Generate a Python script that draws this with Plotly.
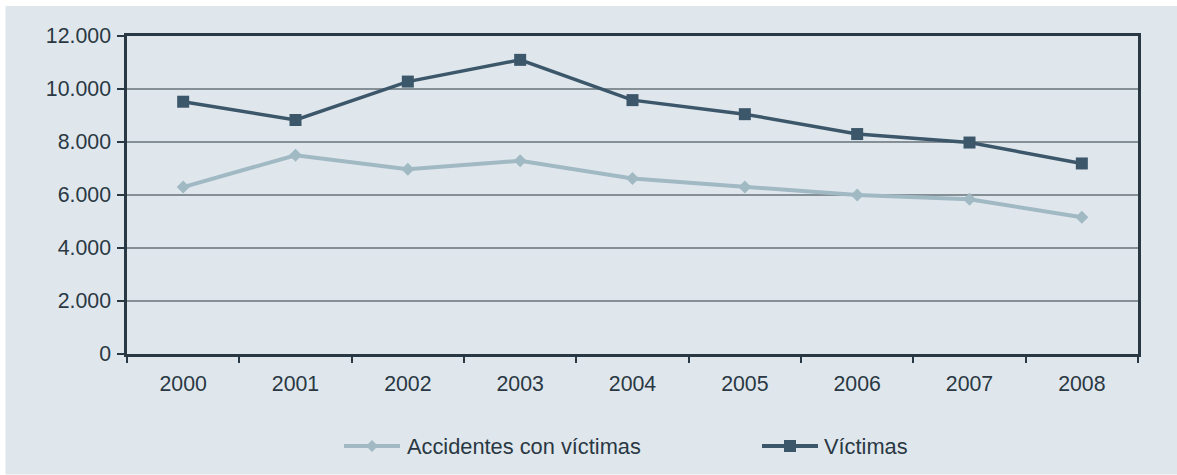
import plotly.graph_objects as go

# Annual series
years = ["2000", "2001", "2002", "2003", "2004", "2005", "2006", "2007", "2008"]
accidentes = [6300, 7500, 6970, 7290, 6620, 6300, 6000, 5840, 5160]
victimas = [9520, 8830, 10280, 11100, 9580, 9050, 8300, 7980, 7190]
series_names = ["Accidentes con víctimas", "Víctimas"]
y_ticks = [0, 2000, 4000, 6000, 8000, 10000, 12000]

# Styling
W, H = 1177, 475
L, R, T, B = 127, 39, 36, 121
BG = "#DFE7ED"
GRID = "#858F96"
AXIS = "#2A3843"
TEXT = "#2A3843"
C_ACC = "#A1B9C3"
C_VIC = "#3C566A"
FONT = "Liberation Sans, Arial, sans-serif"

plot_w = W - L - R
plot_h = H - T - B


def px_to_paper_x(px):
    return (px - L) / plot_w


def px_to_paper_y(py):
    return (H - B - py) / plot_h


fig = go.Figure()
fig.add_trace(go.Scatter(
    x=years, y=accidentes, name=series_names[0], mode="lines+markers",
    line=dict(color=C_ACC, width=4),
    marker=dict(symbol="diamond", size=10, color=C_ACC),
    showlegend=False,
))
fig.add_trace(go.Scatter(
    x=years, y=victimas, name=series_names[1], mode="lines+markers",
    line=dict(color=C_VIC, width=3.5),
    marker=dict(symbol="square", size=12, color=C_VIC),
    showlegend=False,
))

shapes = [
    # light panel behind the whole chart
    dict(type="rect", xref="paper", yref="paper",
         x0=px_to_paper_x(5.5), x1=px_to_paper_x(W + 5),
         y0=px_to_paper_y(474.5), y1=px_to_paper_y(6),
         fillcolor=BG, line=dict(width=0), layer="below"),
]

# Legend drawn as line + marker keys with text labels
legend_y = px_to_paper_y(446)
legend_items = [
    (series_names[0], C_ACC, 4, "M0,-6 L6,0 L0,6 L-6,0 Z", 372, 405),
    (series_names[1], C_VIC, 4, "M-6,-6 L6,-6 L6,6 L-6,6 Z", 790, 822),
]
annotations = []
for name, color, lw, marker_path, cx, tx in legend_items:
    shapes.append(dict(
        type="path", xref="paper", yref="paper",
        xsizemode="pixel", ysizemode="pixel",
        xanchor=px_to_paper_x(cx), yanchor=legend_y,
        path="M-28,0 L28,0", line=dict(color=color, width=lw),
    ))
    shapes.append(dict(
        type="path", xref="paper", yref="paper",
        xsizemode="pixel", ysizemode="pixel",
        xanchor=px_to_paper_x(cx), yanchor=legend_y,
        path=marker_path, fillcolor=color, line=dict(color=color, width=0),
    ))
    annotations.append(dict(
        xref="paper", yref="paper", x=px_to_paper_x(tx), y=legend_y,
        xanchor="left", yanchor="middle", showarrow=False, text=name,
        font=dict(family=FONT, size=21.8, color=TEXT),
    ))

fig.update_layout(
    width=W, height=H,
    margin=dict(l=L, r=R, t=T, b=B, pad=0),
    paper_bgcolor="white",
    plot_bgcolor="rgba(0,0,0,0)",
    separators=",.",
    font=dict(family=FONT, size=21, color=TEXT),
    shapes=shapes,
    annotations=annotations,
    showlegend=False,
)
fig.update_xaxes(
    type="category", range=[-0.5, len(years) - 0.5],
    tickson="boundaries", ticks="outside", ticklen=6, tickwidth=2,
    tickcolor=AXIS, showgrid=False, zeroline=False,
    showline=True, linecolor=AXIS, linewidth=2.5, mirror=True,
    tickfont=dict(family=FONT, size=21.3, color=TEXT), ticklabelstandoff=9,
)
fig.update_yaxes(
    range=[0, 12000], tickvals=y_ticks, tickformat=",d",
    ticks="outside", ticklen=7, tickwidth=2, tickcolor=AXIS,
    showgrid=True, gridcolor=GRID, gridwidth=1.5, zeroline=False,
    showline=True, linecolor=AXIS, linewidth=2.5, mirror=True,
    tickfont=dict(family=FONT, size=21.3, color=TEXT), ticklabelstandoff=2,
)

fig.write_html("out.html")
